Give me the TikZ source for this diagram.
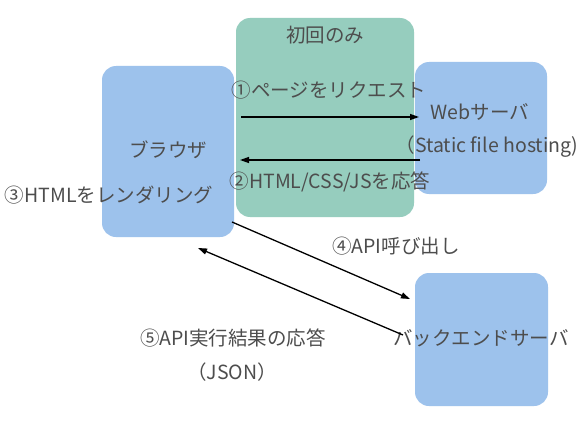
\documentclass[tikz,border=0pt]{standalone}
\usepackage{fontspec}
\setmainfont{Noto Sans CJK JP}
\usetikzlibrary{arrows.meta}
\definecolor{boxgreen}{HTML}{96CDBE}
\definecolor{boxblue}{HTML}{9DC2EC}
\definecolor{txt}{HTML}{4D4D4D}
\tikzset{
  box/.style={rounded corners=14pt, inner sep=0pt, draw=none},
  lbl/.style={text=txt, font=\fontsize{19.5}{22}\selectfont, inner sep=0pt, anchor=center},
  conn/.style={line width=1.3pt, -{Triangle[length=9pt,width=6pt]}},
}
\begin{document}
\begin{tikzpicture}[x=1pt,y=-1pt]
\useasboundingbox (0,0) rectangle (586,444);
\fill[white] (0,0) rectangle (586,444);
% boxes
\node[box, fill=boxgreen, minimum width=178pt, minimum height=199pt] (first) at (325,117.5) {};
\node[box, fill=boxblue, minimum width=132pt, minimum height=171pt] (browser) at (168,151.5) {};
\node[box, fill=boxblue, minimum width=132pt, minimum height=132pt] (web) at (481,128) {};
\node[box, fill=boxblue, minimum width=133pt, minimum height=133pt] (backend) at (481.5,339.5) {};
% coordinates for connector ends
\coordinate (a1s) at (241,117);
\coordinate (a1e) at (419,117);
\coordinate (a2s) at (420,160);
\coordinate (a2e) at (240,160);
\coordinate (a4s) at (232,222);
\coordinate (a4e) at (410,299);
\coordinate (a5s) at (403,335);
\coordinate (a5e) at (198,248);
% labels
\node[lbl] (tfirst) at (325,35) {初回のみ};
\node[lbl] (t1) at (329,90) {①ページをリクエスト};
\node[lbl] (tweb) at (480,112) {Webサーバ};
\node[lbl] (tstatic) at (487,147) {（Static file hosting)};
\node[lbl] (t2) at (330,182) {②HTML/CSS/JSを応答};
\node[lbl] (tbrowser) at (168,150) {ブラウザ};
\node[lbl] (t3) at (109,195) {③HTMLをレンダリング};
\node[lbl] (t4) at (396,246) {④API呼び出し};
\node[lbl] (t5) at (233,338) {⑤API実行結果の応答};
\node[lbl] (tjson) at (232,372) {（JSON）};
\node[lbl] (tbackend) at (481,338) {バックエンドサーバ};
% connectors
\draw[conn] (a1s) -- (a1e);
\draw[conn] (a2s) -- (a2e);
\draw[conn] (a4s) -- (a4e);
\draw[conn] (a5s) -- (a5e);
\end{tikzpicture}
\end{document}
